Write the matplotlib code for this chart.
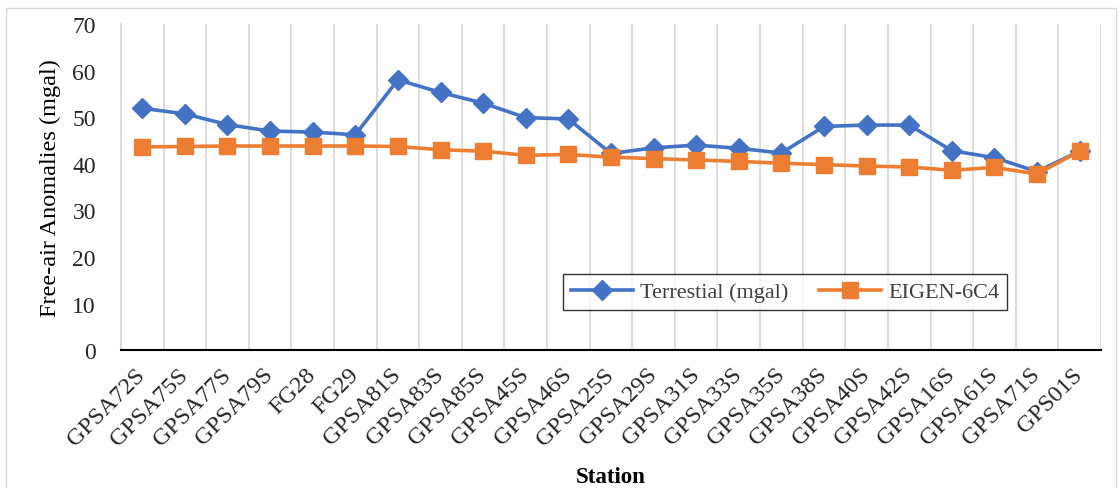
import matplotlib
matplotlib.use("Agg")
import matplotlib.pyplot as plt
from matplotlib.patches import Rectangle

# station names along the x axis
stations = ["GPSA72S", "GPSA75S", "GPSA77S", "GPSA79S", "FG28", "FG29", "GPSA81S",
            "GPSA83S", "GPSA85S", "GPSA45S", "GPSA46S", "GPSA25S", "GPSA29S", "GPSA31S",
            "GPSA33S", "GPSA35S", "GPSA38S", "GPSA40S", "GPSA42S", "GPSA16S", "GPSA61S",
            "GPSA71S", "GPS01S"]

# free-air anomalies (mgal)
terrestial = [51.9, 50.7, 48.4, 47.0, 46.8, 46.2, 58.0, 55.3, 53.0, 49.9, 49.6, 42.2,
              43.4, 44.0, 43.3, 42.3, 48.0, 48.3, 48.3, 42.8, 41.3, 38.3, 42.7]
eigen = [43.6, 43.7, 43.8, 43.8, 43.8, 43.8, 43.7, 43.0, 42.7, 41.8, 42.0, 41.4,
         41.1, 40.8, 40.5, 40.1, 39.8, 39.5, 39.3, 38.6, 39.2, 37.8, 42.7]

yticks = [0, 10, 20, 30, 40, 50, 60, 70]

plt.rcParams["font.family"] = ["Liberation Serif", "DejaVu Serif"]

fig = plt.figure(figsize=(11.2, 4.89), dpi=100)
ax = fig.add_axes([0.108, 0.282, 0.875, 0.667])

x = list(range(len(stations)))
ax.plot(x, terrestial, color="#4472C4", lw=2.6, marker="D", ms=10,
        label="Terrestial (mgal)", zorder=3)
ax.plot(x, eigen, color="#ED7D31", lw=2.6, marker="s", ms=11,
        label="EIGEN-6C4", zorder=4)

ax.set_xlim(-0.5, len(stations) - 0.5)
ax.set_ylim(0, 70)
ax.set_yticks(yticks)

# vertical grid between categories
ax.set_xticks([i - 0.5 for i in range(len(stations) + 1)], minor=True)
ax.grid(True, which="minor", axis="x", color="#D9D9D9", lw=1.3)
ax.tick_params(which="minor", length=0)

ax.set_xticks(x)
ax.set_xticklabels(stations, rotation=45, ha="right", va="center",
                   rotation_mode="anchor", fontsize=17.5, color="#262626")
ax.tick_params(axis="x", length=0, pad=15)
ax.tick_params(axis="y", length=0, pad=18, labelsize=17, labelcolor="#262626")

for s in ["top", "right"]:
    ax.spines[s].set_visible(False)
ax.spines["left"].set_color("#D9D9D9")
ax.spines["left"].set_linewidth(1.3)
ax.spines["bottom"].set_color("black")
ax.spines["bottom"].set_linewidth(1.5)

ax.set_ylabel("Free-air Anomalies (mgal)", fontsize=17.5, labelpad=8)
ax.set_xlabel("Station", fontsize=16.5, fontweight="bold", labelpad=12)

leg = ax.legend(loc="upper left", bbox_to_anchor=(563 / 1120, 1 - 275 / 489),
                bbox_transform=fig.transFigure, ncol=2, frameon=True, fancybox=False,
                fontsize=16, handlelength=2.8, columnspacing=1.4, borderpad=0.35,
                handletextpad=0.3, borderaxespad=0)
leg.get_frame().set_edgecolor("black")
leg.get_frame().set_linewidth(1.0)
for t in leg.get_texts():
    t.set_color("#404040")

# light border round the figure (bottom edge falls outside the image)
fig.patches.append(Rectangle((6 / 1120, -0.02), 1110 / 1120, 1.02 - 9 / 489,
                             transform=fig.transFigure, fill=False,
                             edgecolor="#D9D9D9", lw=1.0))

fig.savefig("out.png", dpi=100)
